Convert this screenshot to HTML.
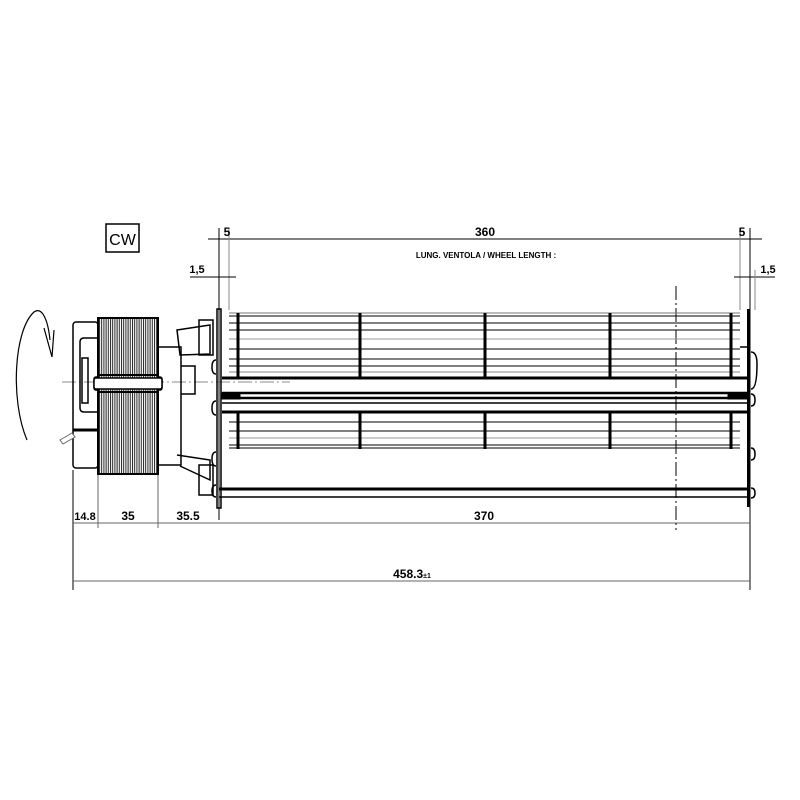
<!DOCTYPE html>
<html><head><meta charset="utf-8"><style>
html,body{margin:0;padding:0;background:#fff;}
svg{display:block;}
text{font-family:"Liberation Sans",sans-serif;font-weight:bold;fill:#000;}
</style></head><body>
<svg width="800" height="800" viewBox="0 0 800 800" xmlns="http://www.w3.org/2000/svg">
<defs>
<pattern id="hat" width="2.2" height="10" patternUnits="userSpaceOnUse">
<rect width="2.2" height="10" fill="#fff"/><rect width="1" height="10" fill="#222"/>
</pattern>
</defs>
<!-- CW box -->
<rect x="106" y="224" width="33" height="28" fill="none" stroke="#000" stroke-width="1.5"/>
<text x="122.5" y="245" font-size="16" font-weight="normal" text-anchor="middle" style="font-weight:normal">CW</text>

<!-- top dims -->
<g stroke="#000" stroke-width="1" fill="none">
<line x1="208" y1="239" x2="740" y2="239"/>
<line x1="740" y1="239" x2="762" y2="239"/>
<line x1="219" y1="228" x2="219" y2="520"/>
<line x1="229" y1="228" x2="229" y2="310" stroke="#888"/>
<line x1="740" y1="228" x2="740" y2="310" stroke="#888"/>
<line x1="750" y1="228" x2="750" y2="590"/>
<line x1="190" y1="277" x2="236" y2="277"/>
<line x1="734" y1="277" x2="775" y2="277"/>
<line x1="755" y1="270" x2="755" y2="310" stroke="#888"/>
<line x1="73" y1="470" x2="73" y2="590"/>
<line x1="98" y1="474" x2="98" y2="528" stroke="#666"/>
<line x1="158" y1="474" x2="158" y2="528" stroke="#666"/>
<line x1="73" y1="523" x2="750" y2="523" stroke="#666"/>
<line x1="73" y1="581" x2="750" y2="581" stroke="#666"/>
</g>
<text x="227" y="236" font-size="12" text-anchor="middle">5</text>
<text x="742" y="236" font-size="12" text-anchor="middle">5</text>
<text x="485" y="236" font-size="12" text-anchor="middle">360</text>
<text x="486" y="258" font-size="8" text-anchor="middle">LUNG. VENTOLA  / WHEEL LENGTH :</text>
<text x="197" y="273" font-size="11" text-anchor="middle">1,5</text>
<text x="768" y="273" font-size="11" text-anchor="middle">1,5</text>
<text x="85" y="520" font-size="11" text-anchor="middle">14.8</text>
<text x="128" y="520" font-size="12" text-anchor="middle">35</text>
<text x="188" y="520" font-size="12" text-anchor="middle">35.5</text>
<text x="484" y="520" font-size="12" text-anchor="middle">370</text>
<text x="412" y="578" font-size="12" text-anchor="middle">458.3<tspan font-size="7">±1</tspan></text>

<!-- centerline -->
<line x1="676" y1="286" x2="676" y2="530" stroke="#000" stroke-width="1" stroke-dasharray="14,3,2,3"/>
<line x1="62" y1="382" x2="290" y2="382" stroke="#666" stroke-width="0.8" stroke-dasharray="14,3,2,3"/>

<!-- wheel blades upper -->
<g stroke="#000" stroke-width="1">
<line x1="229" y1="313" x2="740" y2="313" stroke="#777"/>
<line x1="229" y1="316" x2="740" y2="316"/>
<line x1="229" y1="323" x2="740" y2="323"/>
<line x1="229" y1="330" x2="740" y2="330"/>
<line x1="229" y1="339" x2="740" y2="339" stroke="#999"/>
<line x1="229" y1="349" x2="740" y2="349"/>
<line x1="229" y1="359" x2="740" y2="359"/>
<line x1="229" y1="366" x2="740" y2="366"/>
<line x1="229" y1="372" x2="740" y2="372" stroke="#888"/>
<line x1="229" y1="422" x2="740" y2="422"/>
<line x1="229" y1="431" x2="740" y2="431"/>
<line x1="229" y1="438" x2="740" y2="438" stroke="#999"/>
<line x1="229" y1="445" x2="740" y2="445"/>
<line x1="229" y1="448" x2="740" y2="448"/>
</g>
<g stroke="#000" stroke-width="3">
<line x1="238" y1="313" x2="238" y2="378"/><line x1="238" y1="412" x2="238" y2="449"/>
<line x1="360" y1="313" x2="360" y2="378"/><line x1="360" y1="412" x2="360" y2="449"/>
<line x1="485" y1="313" x2="485" y2="378"/><line x1="485" y1="412" x2="485" y2="449"/>
<line x1="610" y1="313" x2="610" y2="378"/><line x1="610" y1="412" x2="610" y2="449"/>
<line x1="731" y1="313" x2="731" y2="378"/><line x1="731" y1="412" x2="731" y2="449"/>
</g>
<!-- shaft / hub -->
<g stroke="#000" fill="none">
<line x1="222" y1="378" x2="748" y2="378" stroke-width="3"/>
<line x1="222" y1="393" x2="748" y2="393" stroke-width="2.5"/>
<line x1="222" y1="398" x2="748" y2="398" stroke-width="2.5"/>
<line x1="222" y1="403" x2="748" y2="403" stroke-width="1.5"/>
<line x1="222" y1="412" x2="748" y2="412" stroke-width="3"/>
<rect x="222" y="393" width="18" height="6" fill="#000"/>
<rect x="728" y="393" width="20" height="6" fill="#000"/>
<line x1="219" y1="489" x2="748" y2="489" stroke-width="3"/>
<line x1="219" y1="497" x2="748" y2="497" stroke-width="1.5"/>
</g>
<!-- plates -->
<rect x="217" y="309" width="4" height="199" fill="none" stroke="#000" stroke-width="1.5"/>
<rect x="747" y="309" width="3" height="198" fill="#000"/>
<g fill="none" stroke="#000" stroke-width="1.5">
<path d="M216 360 q-4 0 -4 7 q0 7 4 7"/>
<path d="M216 401 q-4 0 -4 7 q0 7 4 7"/>
<path d="M216 452 q-4 0 -4 7 q0 7 4 7"/>
<path d="M216 485 q-4 0 -4 6 q0 6 4 6"/>
<path d="M751 352 q6 0 6 12 q0 25 -6 25"/>
<path d="M751 394 q4 0 4 6 q0 6 -4 6"/>
<path d="M751 448 q4 0 4 6 q0 6 -4 6"/>
<path d="M751 488 q4 0 4 5 q0 5 -4 5"/>
<line x1="740" y1="347" x2="750" y2="347"/>
</g>

<!-- motor -->
<g fill="none" stroke="#000" stroke-width="1.5">
<rect x="73" y="322" width="25" height="146" rx="3"/>
<path d="M98 338 H84 q-4 0 -4 4 V408 q0 4 4 4 H98"/>
<rect x="82" y="358" width="6" height="45"/>
<path d="M158 347 H181 V465 H158"/>
<path d="M177 330 L210 325 V354 L180 355 Z"/>
<path d="M177 455 L210 460 V480 L180 466"/>
<path d="M181 366 H195 V394 H181"/>
<rect x="199" y="320" width="14" height="35"/>
<rect x="199" y="465" width="14" height="30"/>
<rect x="94" y="377" width="68" height="13" rx="2"/>
</g>
<rect x="98" y="318" width="60" height="156" fill="url(#hat)" stroke="#000" stroke-width="2"/>
<line x1="98" y1="375" x2="158" y2="375" stroke="#000" stroke-width="2"/>
<line x1="98" y1="392" x2="158" y2="392" stroke="#000" stroke-width="2"/>
<rect x="94" y="378" width="68" height="11" fill="#fff" stroke="#000" stroke-width="1.5" rx="2"/>
<line x1="73" y1="430" x2="98" y2="430" stroke="#000" stroke-width="3"/>
<path d="M60 440 l12 -7 l3 4 l-12 7 z" fill="#fff" stroke="#666"/>

<!-- rotation arrow -->
<path d="M27 440 C10 400 14 330 34 312 C42 306 48 320 50 340" fill="none" stroke="#000" stroke-width="1.2"/>
<path d="M44 328 L52 357 L54 330" fill="none" stroke="#000" stroke-width="1.2"/>
</svg>
</body></html>
